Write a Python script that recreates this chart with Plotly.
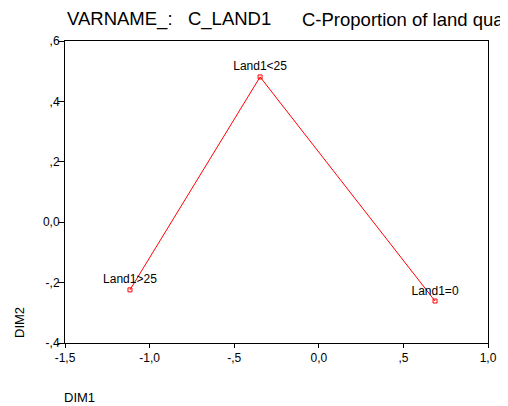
import plotly.graph_objects as go

labels = ["Land1>25", "Land1<25", "Land1=0"]
dim1 = [-1.116, -0.347, 0.687]
dim2 = [-0.224, 0.481, -0.261]

x_ticks = [-1.5, -1.0, -0.5, 0.0, 0.5, 1.0]
x_ticktext = ["-1,5", "-1,0", "-,5", "0,0", ",5", "1,0"]
y_ticks = [-0.4, -0.2, 0.0, 0.2, 0.4, 0.6]
y_ticktext = ["-,4", "-,2", "0,0", ",2", ",4", ",6"]

title_left = "VARNAME_:\u00a0\u00a0\u00a0C_LAND1"
title_right = "C-Proportion of land quality"

FONT = "Liberation Sans, Arial, sans-serif"

# page body has an 8px margin: figure is placed at (8, 8)
OFF = 8
W, H = 508 - OFF, 406 - OFF
L, R, T, B = 65 - OFF, 508 - 488, 41 - OFF, 406 - 343
PW = W - L - R
PH = H - T - B


def px_x(x):
    return (x - OFF - L) / PW


def px_y(y):
    return 1 - (y - OFF - T) / PH


fig = go.Figure()
fig.add_trace(go.Scatter(
    x=dim1, y=dim2, mode="lines+markers+text",
    text=labels, textposition="top center",
    textfont=dict(family=FONT, size=12, color="black"),
    line=dict(color="red", width=1),
    marker=dict(symbol="square-open", size=4, color="red", line=dict(width=1, color="red")),
    cliponaxis=False, showlegend=False,
))

fig.update_layout(
    width=W, height=H,
    margin=dict(l=L, r=R, t=T, b=B, pad=0),
    paper_bgcolor="white", plot_bgcolor="white",
    font=dict(family=FONT, size=11, color="black"),
    xaxis=dict(range=[-1.5, 1.0], tickvals=x_ticks, ticktext=x_ticktext,
               showgrid=False, zeroline=False, showline=True, mirror=True,
               linecolor="black", linewidth=1, ticks="outside", ticklen=4,
               tickcolor="black", tickfont=dict(size=12)),
    yaxis=dict(range=[-0.4, 0.6], tickvals=y_ticks, ticktext=y_ticktext,
               showgrid=False, zeroline=False, showline=True, mirror=True,
               linecolor="black", linewidth=1, ticks="outside", ticklen=6,
               tickcolor="black", tickfont=dict(size=12), ticklabelstandoff=-4),
    annotations=[
        dict(text=title_left,
             xref="paper", yref="paper", x=px_x(65), y=px_y(19),
             xanchor="left", yanchor="middle", showarrow=False,
             font=dict(family=FONT, size=18.5, color="black")),
        dict(text=title_right,
             xref="paper", yref="paper", x=px_x(300), y=px_y(19),
             xanchor="left", yanchor="middle", showarrow=False,
             font=dict(family=FONT, size=18.5, color="black")),
        dict(text="DIM2", xref="paper", yref="paper",
             x=px_x(19), y=px_y(323), textangle=-90,
             xanchor="center", yanchor="middle", showarrow=False,
             font=dict(family=FONT, size=13, color="black")),
        dict(text="DIM1", xref="paper", yref="paper",
             x=px_x(79), y=px_y(397),
             xanchor="center", yanchor="middle", showarrow=False,
             font=dict(family=FONT, size=13, color="black")),
    ],
)

fig.write_html("out.html")
